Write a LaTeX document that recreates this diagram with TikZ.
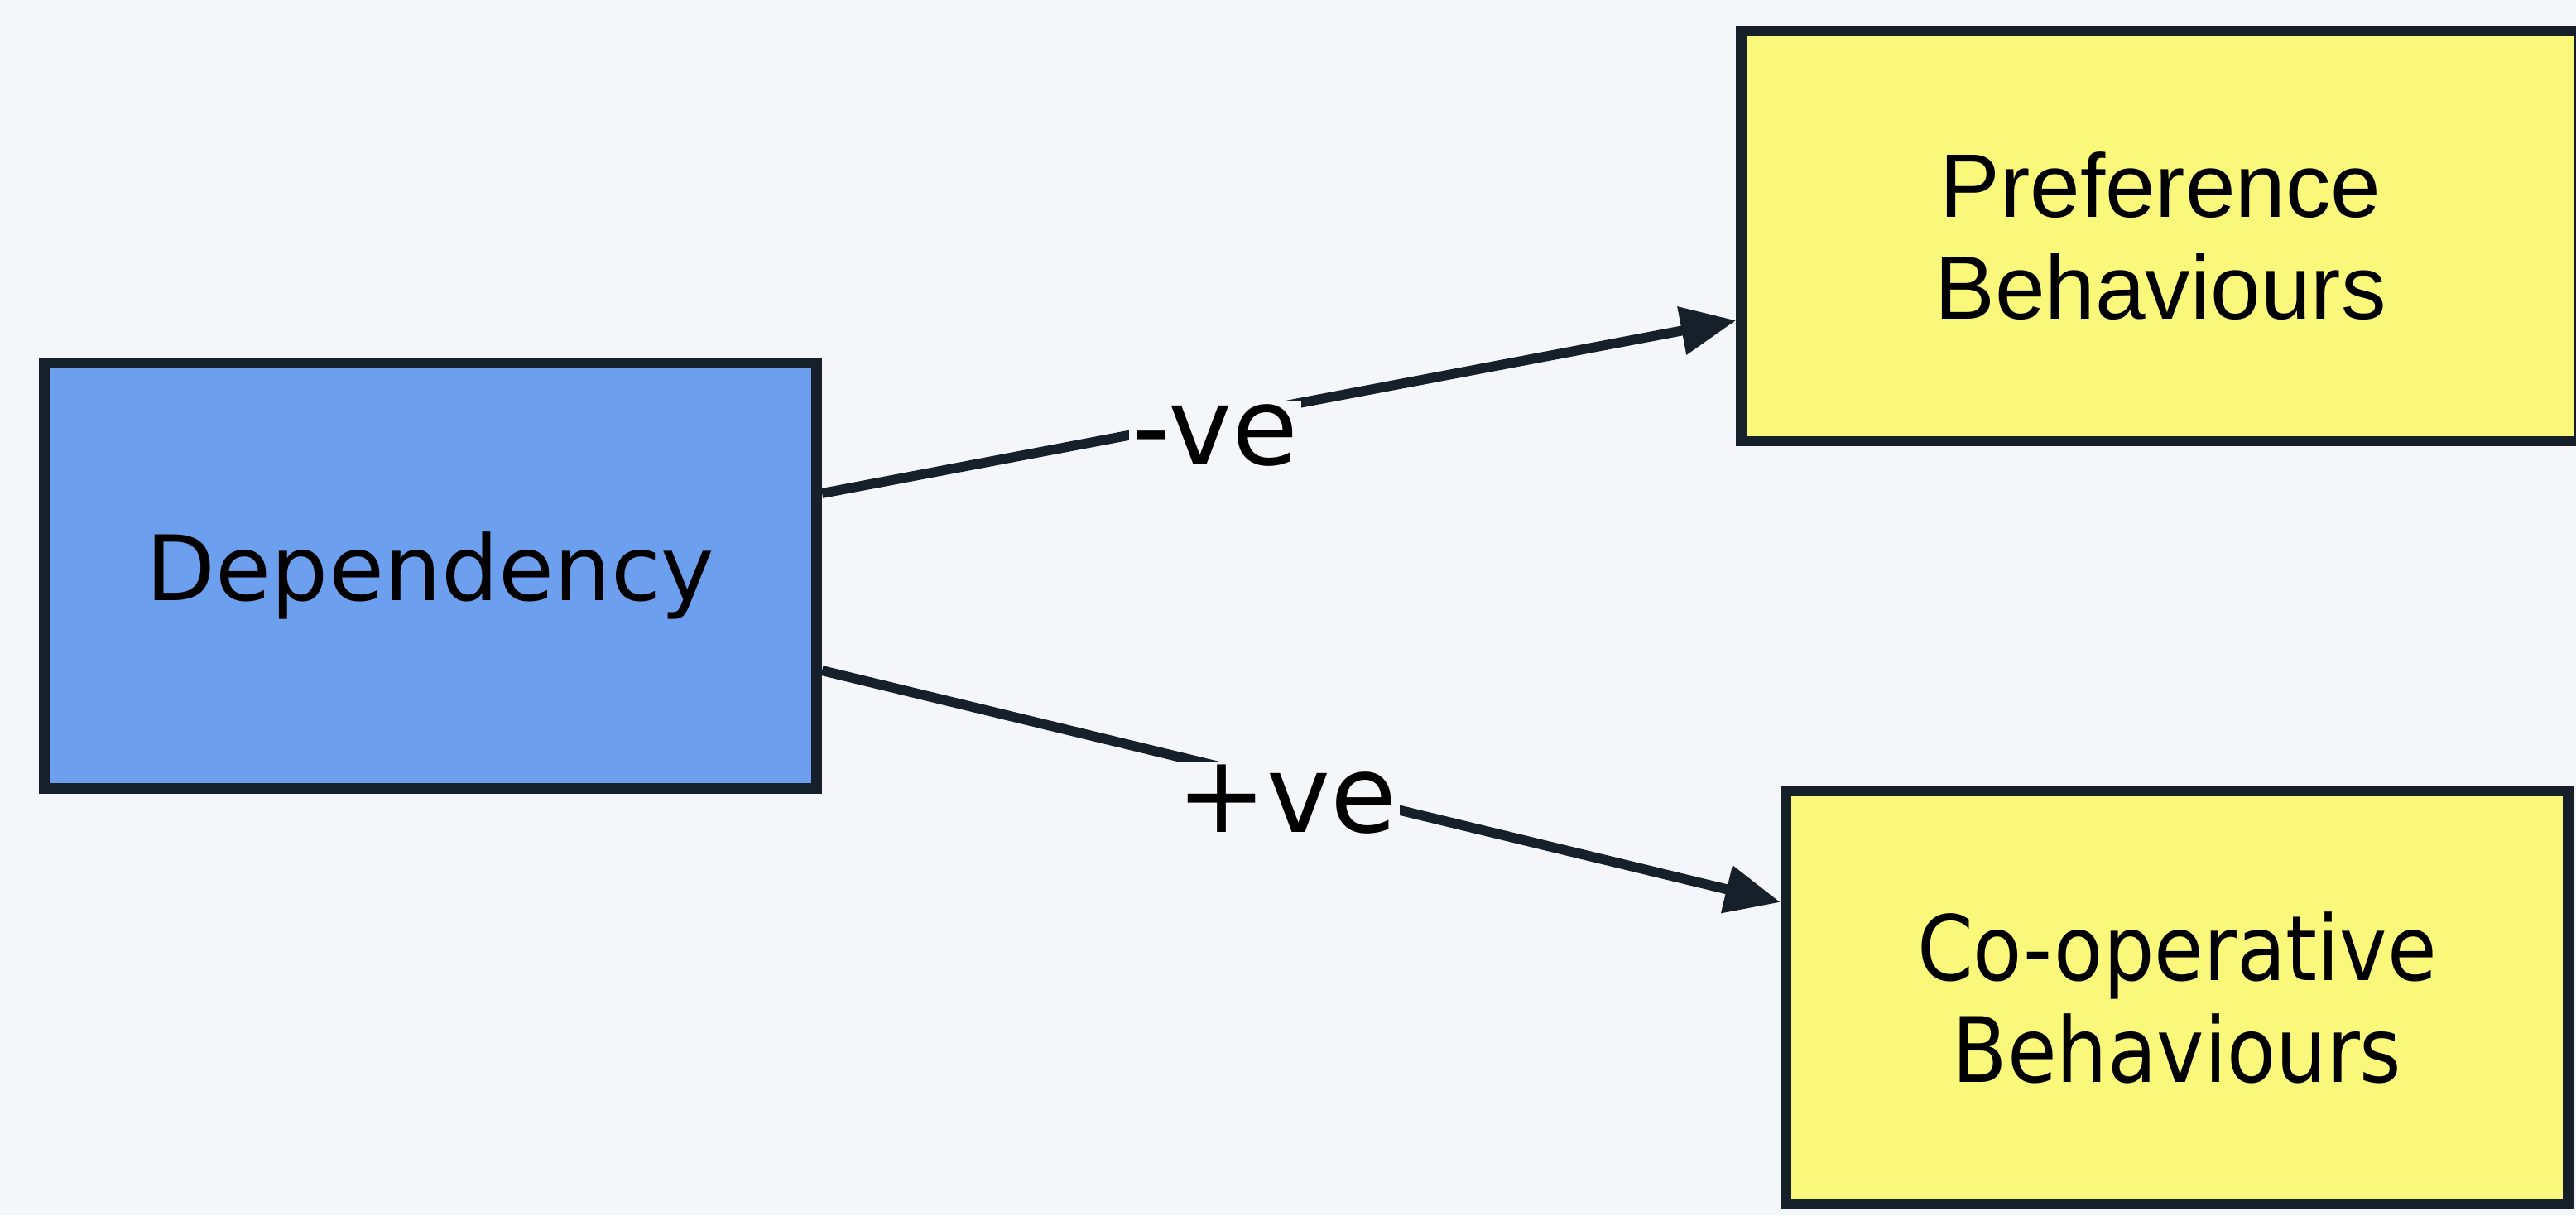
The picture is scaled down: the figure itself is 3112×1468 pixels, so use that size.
\documentclass[tikz,border=0pt]{standalone}
\usepackage{fontspec}
\usepackage{tikz}
\usetikzlibrary{arrows.meta,positioning,calc}
\usepackage{xcolor}
\newfontfamily\verdana{DejaVu Sans}
\newfontfamily\tahoma[FakeStretch=0.89]{DejaVu Sans}
\newfontfamily\arial{Liberation Sans}
\definecolor{paper}{RGB}{245,246,250}
\definecolor{depblue}{RGB}{108,160,238}
\definecolor{behyellow}{RGB}{250,248,122}
\definecolor{edge}{RGB}{22,32,42}

\begin{document}
\begin{tikzpicture}[x=0.01cm,y=-0.01cm,
    box/.style={draw=edge,line width=3.6pt,align=center,text=black,inner sep=0pt},
    link/.style={-{Triangle[length=19pt,width=16pt]},draw=edge,line width=3.4pt},
    sign/.style={fill=paper,text=black,inner sep=1pt,yshift=-0.2cm,font=\verdana\fontsize{37}{44}\selectfont}]
    % Page
    \fill[paper] (0,0) rectangle (3112,1468);
    \useasboundingbox (0,0) rectangle (3112,1468);

    % Boxes
    \node[box,fill=depblue,minimum width=9.33cm,minimum height=5.14cm,
          font=\verdana\fontsize{31}{35}\selectfont] (dep) at (520,695) {Dependency};
    \node[box,fill=behyellow,minimum width=10.12cm,minimum height=4.96cm,
          font=\arial\fontsize{31}{35}\selectfont] (pref) at (2610,285) {Preference\\Behaviours};
    \node[box,fill=behyellow,minimum width=9.45cm,minimum height=4.98cm,
          font=\tahoma\fontsize{31}{35}\selectfont] (coop) at (2630,1205) {Co-operative\\Behaviours};

    % Links
    \draw[link] ([yshift=0.99cm]dep.east) -- node[sign,pos=0.43] {-ve} ([yshift=-1.02cm]pref.west);
    \draw[link] ([yshift=-1.15cm]dep.east) -- node[sign,pos=0.485] {+ve} ([yshift=1.15cm]coop.west);
\end{tikzpicture}
\end{document}
